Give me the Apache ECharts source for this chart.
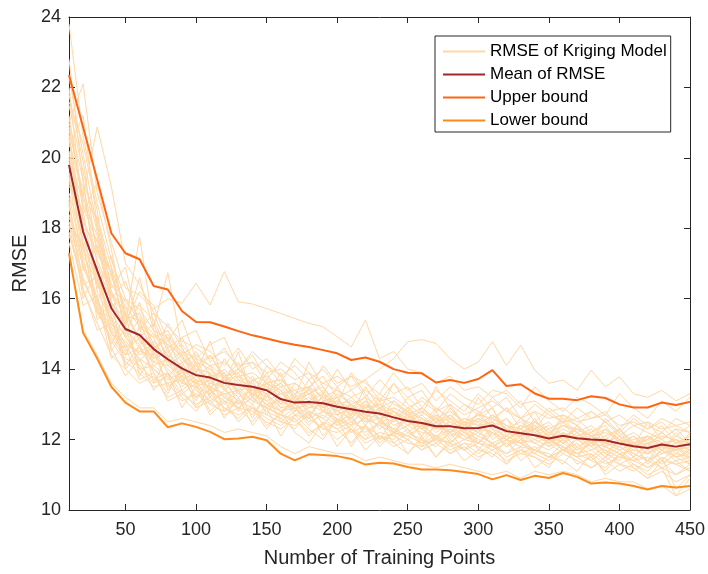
<!DOCTYPE html>
<html>
<head>
<meta charset="utf-8">
<script src="https://cdn.jsdelivr.net/npm/echarts@6/dist/echarts.min.js"></script>
<style>
  html, body { margin: 0; padding: 0; background: #fff; }
  #lineChart { width: 708px; height: 574px; }
</style>
</head>
<body>
<div id="lineChart"></div>
<script>
// x: number of training points
const trainingPoints = [10, 20, 30, 40, 50, 60, 70, 80, 90, 100, 110, 120, 130, 140, 150,
  160, 170, 180, 190, 200, 210, 220, 230, 240, 250, 260, 270, 280, 290, 300,
  310, 320, 330, 340, 350, 360, 370, 380, 390, 400, 410, 420, 430, 440, 450];

const meanRmse = [19.8, 17.9, 16.8, 15.73, 15.14, 14.97, 14.57, 14.28, 14.02, 13.83, 13.76, 13.61, 13.55, 13.5, 13.4,
  13.15, 13.05, 13.07, 13.03, 12.93, 12.86, 12.79, 12.74, 12.63, 12.53, 12.47, 12.38, 12.38, 12.32, 12.33,
  12.4, 12.24, 12.18, 12.12, 12.03, 12.11, 12.04, 12.0, 11.98, 11.89, 11.81, 11.76, 11.86, 11.8, 11.87];

const upperBound = [22.35, 20.87, 19.38, 17.86, 17.29, 17.12, 16.36, 16.26, 15.65, 15.34, 15.33, 15.21, 15.08, 14.96, 14.87,
  14.77, 14.69, 14.63, 14.54, 14.45, 14.26, 14.33, 14.21, 14.0, 13.9, 13.88, 13.62, 13.69, 13.61, 13.72,
  13.97, 13.52, 13.57, 13.31, 13.16, 13.16, 13.12, 13.23, 13.18, 13.0, 12.91, 12.91, 13.05, 12.98, 13.07];

const lowerBound = [17.29, 15.03, 14.3, 13.5, 13.05, 12.8, 12.8, 12.35, 12.46, 12.36, 12.22, 12.01, 12.03, 12.08, 11.98,
  11.6, 11.41, 11.58, 11.56, 11.53, 11.45, 11.29, 11.34, 11.32, 11.22, 11.15, 11.15, 11.13, 11.08, 11.02,
  10.87, 10.99, 10.85, 10.97, 10.91, 11.05, 10.94, 10.75, 10.78, 10.75, 10.68, 10.58, 10.68, 10.64, 10.68];

// individual kriging runs (pale lines)
const krigingRuns = [
  [23.8,20.6,18.7,17.1,16.0,15.7,15.1,14.9,14.5,14.3,14.1,14.2,13.8,13.9,13.6,13.7,13.3,13.5,13.2,13.4,13.0,13.2,12.9,13.1,12.7,12.9,12.6,12.8,12.5,12.4,12.7,12.3,12.5,12.2,12.4,12.0,12.3,12.1,11.9,12.2,11.8,12.0,11.7,12.1,11.9],
  [21.0,22.1,19.0,17.6,16.3,16.1,15.7,16.0,15.87,16.44,15.82,16.77,15.91,15.85,15.72,15.58,15.44,15.3,15.2,14.92,14.63,15.39,14.3,14.5,14.0,13.9,13.6,13.8,13.4,13.5,13.2,13.4,13.0,13.1,12.8,12.9,12.6,12.8,12.5,12.7,12.4,12.5,12.3,12.4,12.2],
  [20.5,18.9,20.88,19.18,17.0,16.4,15.6,15.2,14.8,14.6,14.3,14.5,14.1,14.2,13.9,14.0,13.7,13.9,13.6,13.8,13.5,13.7,14.0,14.3,14.78,14.84,14.73,14.3,14.0,14.2,14.78,14.1,14.68,13.97,13.6,13.69,13.4,13.97,13.5,13.78,13.3,13.2,13.4,13.1,13.3],
  [17.3,15.1,14.4,13.6,13.2,12.9,12.9,12.5,12.6,12.5,12.4,12.2,12.3,12.2,12.1,11.8,11.6,11.8,11.7,11.6,11.6,11.4,11.5,11.4,11.3,11.3,11.2,11.3,11.2,11.1,11.0,11.1,10.9,11.1,11.0,11.1,11.0,10.8,10.9,10.8,10.8,10.6,10.7,10.4,10.6],
  [19.2,18.5,16.2,15.4,14.6,15.0,14.2,14.6,13.7,13.9,13.2,13.8,13.3,13.0,13.6,12.9,13.3,12.7,13.1,12.5,13.0,12.4,12.9,12.2,12.6,12.1,12.7,12.0,12.4,12.6,12.0,12.3,11.9,12.4,11.8,12.2,11.7,12.1,11.6,12.0,11.5,11.9,11.4,11.8,11.5],
  [21.5,19.6,17.9,16.4,15.8,15.2,14.9,14.1,14.4,13.6,14.0,13.5,13.9,13.2,13.7,13.4,12.8,13.5,12.9,13.2,12.6,13.1,12.5,12.9,12.7,12.3,12.8,12.2,12.6,12.5,12.9,12.1,12.4,12.3,11.9,12.5,12.2,11.8,12.3,12.0,11.7,12.1,11.9,11.6,12.0],
  [18.4,16.9,15.9,15.0,14.8,14.3,14.0,13.7,13.9,13.4,13.1,13.3,12.9,13.2,12.8,12.6,12.9,12.5,12.7,12.4,12.6,12.2,12.5,12.3,12.0,12.4,12.1,11.9,12.2,12.0,11.8,12.1,11.9,11.7,12.0,11.8,11.6,11.9,11.7,11.5,11.8,11.4,11.6,11.7,11.3],
  [20.2,18.2,17.3,16.8,15.1,14.7,15.0,14.4,14.1,14.5,13.8,13.6,14.0,13.5,13.3,13.6,13.1,13.4,12.9,13.3,13.0,12.7,13.2,12.8,12.4,12.9,12.5,12.7,12.3,12.6,12.4,12.2,12.6,12.1,12.3,12.5,12.0,12.2,12.4,11.9,12.1,11.8,12.2,11.9,12.1],
  [18.9,17.2,16.5,15.6,14.9,14.4,14.6,13.9,13.5,13.8,13.4,13.0,13.5,13.1,12.9,12.7,13.2,12.8,12.6,13.0,12.5,12.8,12.3,12.6,12.2,12.5,12.0,12.3,12.1,11.9,12.2,11.8,12.0,11.9,11.7,12.0,11.6,11.9,11.5,11.8,11.6,11.4,11.7,11.5,11.6],
  [22.3,20.1,18.0,16.0,16.5,15.3,14.5,15.0,14.3,13.9,14.4,13.7,13.4,13.8,13.2,13.5,13.0,13.3,13.5,12.9,13.2,12.8,13.0,12.6,12.9,12.5,12.3,12.7,12.4,12.2,12.6,12.3,12.1,12.5,12.2,12.0,12.4,11.9,12.1,12.3,11.8,12.0,12.2,11.9,11.7],
  [19.6,17.5,16.9,15.2,14.5,14.9,14.1,13.8,14.2,13.5,13.7,13.2,13.6,13.3,13.0,12.8,13.1,12.9,13.2,12.7,12.9,12.6,12.4,12.8,12.5,12.3,12.6,12.4,12.1,12.4,12.2,12.0,12.3,12.1,11.9,12.2,12.0,11.8,12.1,11.7,11.9,11.6,11.9,11.7,11.8],
  [18.1,16.2,15.3,14.4,14.0,13.6,13.8,13.2,13.4,12.9,13.1,12.7,12.9,12.8,12.5,12.3,12.6,12.2,12.4,12.0,12.3,11.9,12.1,11.8,12.0,11.7,11.9,11.6,11.8,11.5,11.7,11.4,11.6,11.5,11.3,11.6,11.4,11.2,11.5,11.3,11.1,11.4,11.2,11.0,11.3],
  [20.8,19.0,17.0,15.9,15.4,15.6,14.7,14.3,13.8,14.1,13.6,13.9,13.3,13.7,13.5,13.2,12.8,13.1,13.4,12.8,12.6,13.0,12.7,12.5,12.8,12.6,12.4,12.2,12.5,12.7,12.3,12.1,12.4,12.2,12.0,12.3,12.1,12.3,11.9,12.1,11.8,11.9,12.0,11.7,12.2],
  [19.4,18.0,16.6,15.8,15.3,17.75,15.2,16.74,14.6,14.0,13.9,13.4,13.8,13.6,13.1,13.3,13.0,12.7,13.1,12.8,13.0,12.6,12.9,12.7,12.4,12.6,12.2,12.5,12.3,12.5,12.1,12.4,12.2,12.0,12.2,11.9,12.1,12.2,11.8,12.0,11.9,11.6,11.9,11.8,11.6],
  [17.8,16.5,15.7,14.8,14.2,13.9,13.5,13.6,13.1,13.3,13.0,12.8,13.1,12.9,12.7,12.5,12.4,12.7,12.3,12.5,12.2,12.4,12.1,12.0,12.3,11.9,12.1,11.8,12.0,11.9,11.7,11.9,11.6,11.8,11.5,11.7,11.6,11.4,11.7,11.3,11.5,11.2,11.4,11.3,11.1],
  [21.2,18.6,17.6,16.2,15.6,14.8,14.3,14.5,13.9,13.6,13.8,13.9,13.4,13.1,13.5,13.0,13.2,13.4,12.8,13.0,12.7,12.9,12.6,12.3,12.7,12.4,12.6,12.1,12.3,12.1,12.5,12.0,12.2,12.4,12.1,11.9,12.2,11.9,12.0,11.8,12.1,11.7,11.9,12.0,11.6],
  [18.6,17.0,16.0,15.1,14.4,14.6,14.0,13.6,13.7,13.2,13.4,13.1,12.9,13.2,12.9,12.7,12.5,12.8,12.6,12.3,12.5,12.3,12.0,12.2,12.1,11.9,12.0,11.7,11.9,11.6,11.9,11.5,11.7,11.6,11.4,11.7,11.5,11.2,11.4,11.1,11.3,11.0,11.2,10.4,10.9],
  [20.0,18.3,17.1,16.1,15.5,15.4,15.0,14.7,14.2,14.4,14.1,13.8,14.0,13.7,13.8,13.5,13.6,13.3,13.6,13.4,13.2,13.4,13.1,13.2,12.9,13.1,12.8,13.0,12.7,12.9,13.1,12.8,12.6,12.8,12.6,12.7,12.5,12.6,12.7,12.4,12.5,12.3,12.6,12.4,12.5],
  [19.0,17.7,16.4,15.5,14.7,14.5,14.4,14.0,13.6,13.5,13.3,13.6,13.2,13.4,13.0,13.1,12.9,13.0,12.8,12.7,12.9,12.5,12.8,12.4,12.6,12.3,12.5,12.2,12.4,12.3,12.2,12.0,12.3,12.1,11.9,12.1,11.8,12.0,11.9,11.7,11.9,11.6,11.8,11.7,11.9],
  [20.6,17.4,16.7,15.3,15.0,14.2,14.8,14.2,14.0,13.7,13.5,13.3,13.4,13.5,13.3,12.9,13.0,13.2,12.9,13.1,12.8,12.7,12.6,12.8,12.5,12.7,12.3,12.4,12.6,12.4,12.5,12.2,12.1,12.3,12.0,12.2,12.0,12.1,11.9,12.1,11.8,11.9,11.7,11.9,12.0],
  [22.8,19.3,18.2,16.6,15.9,15.5,14.6,14.8,14.3,14.0,13.7,14.0,13.6,13.4,13.6,13.3,13.4,13.1,13.3,13.0,13.1,12.9,13.0,12.8,12.6,12.8,12.5,12.6,12.4,12.7,12.6,12.4,12.3,12.5,12.2,12.4,12.3,12.1,12.2,12.0,12.2,11.9,12.1,12.0,11.8],
  [18.2,16.6,15.6,14.9,14.3,14.1,13.7,13.9,13.3,13.0,13.2,12.9,12.7,12.9,12.6,12.4,12.7,12.6,12.3,12.2,12.4,12.0,12.2,12.1,11.9,11.8,12.0,11.9,11.7,11.9,11.8,11.6,11.8,11.7,11.5,11.7,11.5,11.6,11.3,11.5,11.4,11.2,11.5,11.3,11.4],
  [20.9,18.8,18.3,16.9,15.7,15.8,15.4,14.5,14.7,14.2,14.0,13.7,13.8,13.3,13.4,13.6,13.2,12.9,13.2,13.0,12.8,13.1,12.7,12.9,12.7,12.4,12.7,12.5,12.3,12.6,12.4,12.6,12.2,12.3,12.5,12.1,12.3,12.1,12.3,11.9,12.0,12.1,11.8,12.0,11.9],
  [19.5,16.8,17.5,15.9,15.2,14.6,14.2,14.1,13.8,13.6,13.5,13.2,13.0,13.3,13.1,12.8,13.0,12.6,12.8,12.6,12.4,12.6,12.4,12.2,12.4,12.2,12.1,12.3,12.0,12.2,11.9,12.1,11.9,12.0,11.8,12.0,11.7,11.9,11.8,11.6,11.7,11.6,11.8,11.5,11.7],
  [21.8,19.9,17.2,16.9,15.0,15.9,14.4,15.3,14.6,13.9,14.8,13.6,14.5,13.2,14.1,13.8,13.2,14.2,13.5,13.0,13.9,13.3,12.8,13.6,13.0,12.7,13.5,12.9,12.4,13.2,12.6,12.9,12.3,12.8,12.1,12.7,12.4,11.9,12.6,12.2,11.8,12.5,12.0,12.3,11.9],
  [18.0,17.6,15.4,15.9,14.1,14.7,13.9,13.3,14.1,12.9,13.5,12.6,13.2,12.4,12.9,12.1,12.7,12.3,12.0,12.6,11.8,12.4,11.9,12.2,11.6,12.1,11.5,12.0,11.7,11.4,11.9,11.3,11.7,11.5,11.2,11.8,11.3,11.5,11.1,11.6,11.2,10.9,11.4,11.0,11.2],
  [20.3,21.2,18.1,16.3,16.9,15.1,15.6,14.6,14.9,15.1,14.2,14.6,14.0,14.4,13.7,14.2,13.9,13.4,14.1,13.6,13.8,13.2,13.7,13.3,13.5,12.9,13.4,13.1,12.8,13.3,12.9,13.2,12.6,13.0,12.7,12.5,12.9,12.6,12.8,12.3,12.7,12.4,12.2,12.6,12.4],
  [17.6,15.8,16.1,14.6,13.8,14.3,13.4,13.9,12.9,13.5,12.7,13.1,12.5,12.9,12.3,12.8,12.2,11.9,12.5,11.8,12.3,11.7,12.1,11.9,11.6,12.0,11.5,11.9,11.4,11.7,11.6,11.3,11.8,11.2,11.5,11.4,11.1,11.6,11.0,11.3,11.2,10.9,11.1,10.8,11.0],
  [22.0,18.4,19.3,17.4,15.3,16.2,15.8,14.8,15.4,14.3,14.7,14.9,14.0,14.5,14.1,13.6,14.3,13.9,13.3,14.0,13.4,13.7,13.1,13.6,13.2,13.4,12.8,13.3,13.0,12.7,13.2,12.8,13.1,12.5,12.9,12.6,12.4,12.8,12.5,12.2,12.6,12.3,12.5,12.1,12.4],
  [19.9,17.1,15.8,14.7,15.6,13.8,14.5,13.5,13.8,13.1,13.9,12.8,13.4,12.6,13.3,12.5,12.8,13.1,12.4,12.9,12.2,12.7,12.0,12.6,12.3,11.8,12.5,11.9,12.3,11.7,12.2,11.8,12.1,11.6,12.0,11.8,11.5,12.0,11.6,11.4,11.9,11.3,11.7,11.4,11.5],
  [21.0,19.4,16.3,17.2,15.5,14.9,15.3,14.2,14.5,13.9,13.4,14.3,13.7,13.2,13.9,13.0,13.6,13.3,12.8,13.5,12.9,13.2,12.5,13.1,12.8,12.4,12.9,12.6,12.2,12.8,12.3,12.6,12.0,12.5,12.3,11.9,12.4,12.1,11.8,12.3,11.9,12.1,11.7,12.2,11.8],
  [18.7,16.0,16.8,15.0,14.4,15.2,13.6,14.4,13.6,14.2,13.3,13.8,13.0,13.5,12.7,13.4,12.9,12.6,13.3,12.7,12.4,13.0,12.6,12.1,12.8,12.3,12.0,12.6,12.2,11.9,12.4,12.0,11.8,12.3,11.9,11.6,12.1,11.8,11.5,12.0,11.6,11.4,11.9,11.5,11.3],
  [20.1,18.7,17.8,15.8,16.0,15.3,14.9,15.1,14.4,14.7,14.5,14.1,14.6,14.0,14.3,13.8,14.1,13.7,14.0,13.5,13.8,13.6,13.3,13.9,13.4,13.6,13.1,13.5,13.2,13.0,13.4,13.3,12.9,13.5,13.1,12.8,13.2,13.0,12.7,13.3,12.9,12.6,13.1,12.8,13.2],
  [19.3,18.1,15.6,15.5,14.0,14.5,14.7,13.4,14.0,13.2,13.6,13.5,12.8,13.7,12.9,13.2,12.7,12.9,13.0,12.4,12.8,12.5,12.6,12.2,12.7,12.0,12.4,12.2,12.5,11.9,12.3,11.8,12.2,11.9,12.1,11.7,12.0,11.7,11.9,11.8,11.5,11.9,11.6,11.8,11.4],
  [21.6,20.4,18.5,16.1,15.7,14.8,14.6,14.9,13.9,14.3,13.5,13.7,14.2,13.3,13.6,13.4,13.0,13.7,13.1,13.2,12.7,13.5,12.9,12.6,13.2,12.8,12.5,13.0,12.4,12.7,12.9,12.2,12.6,12.4,12.1,12.6,12.2,12.4,12.0,12.3,11.9,12.0,12.4,11.9,12.1],
  [18.3,17.4,16.0,14.3,14.7,14.0,13.6,13.8,13.2,12.8,13.3,12.9,12.6,13.0,12.4,12.7,12.6,12.1,12.5,12.3,11.9,12.4,11.8,12.2,12.0,11.7,12.1,11.6,11.9,11.8,11.5,12.0,11.4,11.7,11.6,11.3,11.8,11.4,11.2,11.6,11.3,11.1,11.5,10.6,11.0],
  [20.7,18.0,17.7,16.7,15.2,16.6,15.1,14.3,14.9,14.1,14.4,13.8,13.9,14.2,13.6,13.7,13.4,13.5,13.8,13.2,13.4,12.9,13.3,13.0,12.8,13.2,12.9,12.6,13.0,12.8,12.5,12.9,12.6,12.3,12.8,12.5,12.6,12.2,12.5,12.1,12.4,12.2,12.0,12.3,12.2],
  [17.9,16.3,15.1,15.3,14.6,13.7,13.9,13.1,13.3,13.6,12.8,13.2,12.9,12.5,13.0,12.6,12.3,12.8,12.1,12.6,12.3,12.0,12.5,11.9,12.2,12.0,11.8,12.2,11.7,12.1,11.9,11.6,12.0,11.7,11.5,11.9,11.6,11.7,11.4,11.7,11.4,11.5,11.2,11.4,11.1],
  [19.7,19.2,17.4,16.2,14.9,15.4,14.3,14.7,14.4,13.8,14.1,13.4,13.7,13.5,13.2,13.9,13.1,13.3,12.9,13.1,12.9,12.6,13.1,12.5,12.9,12.6,12.3,12.9,12.5,12.2,12.7,12.4,12.1,12.6,12.0,12.4,12.2,11.9,12.3,12.0,11.8,12.1,11.8,12.0,11.7],
  [18.8,16.4,16.6,14.5,15.2,14.0,14.1,14.3,13.4,13.7,13.0,13.4,13.1,12.7,13.3,12.8,12.9,12.4,12.8,12.5,12.7,12.1,12.5,12.3,12.1,12.4,11.9,12.2,12.0,12.3,11.8,12.0,11.9,11.6,12.0,11.7,11.9,11.5,11.8,11.6,11.4,11.7,11.3,11.6,11.5]
];

const xTicks = [50, 100, 150, 200, 250, 300, 350, 400, 450];

const fontFamily = "'Liberation Sans', Arial, Helvetica, sans-serif";
const axisColor = "#262626";

const pairs = (ys) => ys.map((y, i) => [trainingPoints[i], y]);

const drawChart = () => {
  let myChart = echarts.init(document.getElementById("lineChart"));

  let series = krigingRuns.map((run) => ({
    name: "RMSE of Kriging Model",
    type: "line",
    data: pairs(run),
    symbol: "none",
    lineStyle: { color: "#FFD8A6", width: 1 },
    itemStyle: { color: "#FFD8A6" },
    z: 2
  }));
  series.push(
    {
      name: "Mean of RMSE",
      type: "line",
      data: pairs(meanRmse),
      symbol: "none",
      lineStyle: { color: "#A3262C", width: 2 },
      itemStyle: { color: "#A3262C" },
      z: 3
    },
    {
      name: "Upper bound",
      type: "line",
      data: pairs(upperBound),
      symbol: "none",
      lineStyle: { color: "#FF6410", width: 2 },
      itemStyle: { color: "#FF6410" },
      z: 3
    },
    {
      name: "Lower bound",
      type: "line",
      data: pairs(lowerBound),
      symbol: "none",
      lineStyle: { color: "#FF8A1C", width: 2 },
      itemStyle: { color: "#FF8A1C" },
      z: 3
    }
  );

  const baseX = {
    type: "value",
    min: 10,
    max: 450,
    splitLine: { show: false },
    axisLine: { show: true, onZero: false, lineStyle: { color: axisColor, width: 1 } },
    axisTick: { show: true, inside: true, length: 6, customValues: xTicks, lineStyle: { color: axisColor } }
  };
  const baseY = {
    type: "value",
    min: 10,
    max: 24,
    interval: 2,
    splitLine: { show: false },
    axisLine: { show: true, onZero: false, lineStyle: { color: axisColor, width: 1 } },
    axisTick: { show: true, inside: true, length: 6, lineStyle: { color: axisColor } }
  };

  let option = {
    animation: false,
    backgroundColor: "#fff",
    grid: { left: 69, right: 14, top: 17, bottom: 64 },
    legend: {
      orient: "vertical",
      left: 435,
      top: 36,
      padding: [7, 4, 3, 7],
      itemWidth: 42,
      itemHeight: 17,
      itemGap: 6,
      borderColor: axisColor,
      borderWidth: 1,
      backgroundColor: "#fff",
      selectedMode: false,
      itemStyle: { opacity: 0 },
      textStyle: { fontSize: 17, color: "#000", fontFamily: fontFamily },
      data: ["RMSE of Kriging Model", "Mean of RMSE", "Upper bound", "Lower bound"]
    },
    xAxis: [
      Object.assign({}, baseX, {
        position: "bottom",
        name: "Number of Training Points",
        nameLocation: "middle",
        nameGap: 38,
        nameTextStyle: { fontSize: 20, color: axisColor, fontFamily: fontFamily },
        axisLabel: { customValues: xTicks, fontSize: 18, color: axisColor, fontFamily: fontFamily, margin: 11 }
      }),
      Object.assign({}, baseX, {
        position: "top",
        axisLabel: { show: false }
      })
    ],
    yAxis: [
      Object.assign({}, baseY, {
        position: "left",
        name: "RMSE",
        nameLocation: "middle",
        nameGap: 26,
        nameTextStyle: { fontSize: 20, color: axisColor, fontFamily: fontFamily },
        axisLabel: { fontSize: 18, color: axisColor, fontFamily: fontFamily, margin: 8 }
      }),
      Object.assign({}, baseY, {
        position: "right",
        axisLabel: { show: false }
      })
    ],
    series: series
  };
  myChart.setOption(option);
};

drawChart();
</script>
</body>
</html>
